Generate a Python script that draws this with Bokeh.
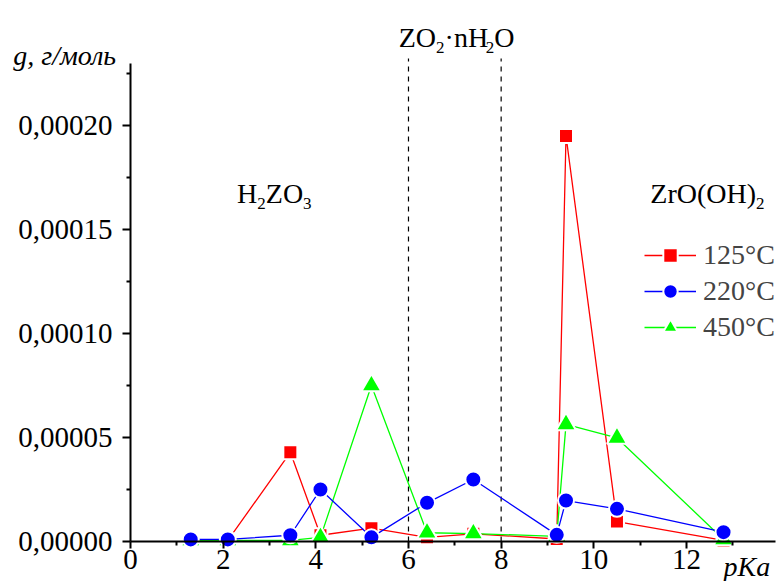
from bokeh.plotting import figure
from bokeh.models import (Label, Legend, LegendItem, FixedTicker, CustomJSTickFormatter, Range1d)
from bokeh.embed import file_html
from bokeh.resources import INLINE

# ---- data ----
pka = [1.3, 2.1, 3.45, 4.1, 5.2, 6.4, 7.4, 9.2, 9.4, 10.5, 12.8]
g_125 = [0.000001, 0.0000005, 0.0000429, 0.000003, 0.0000064, 0.000002, 0.0000037, 0.0000012, 0.000195, 0.0000096, 0.0000005]
g_220 = [0.000001, 0.000001, 0.000003, 0.000025, 0.000002, 0.0000186, 0.0000298, 0.0000032, 0.0000197, 0.0000157, 0.0000045]
g_450 = [0.0000005, 0.0000005, 0.0000005, 0.000002, 0.000075, 0.0000042, 0.0000038, 0.0000025, 0.0000563, 0.0000498, 0.000001]
series_labels = ["125°C", "220°C", "450°C"]
boundary_pka = [6, 8]
x_major = [0, 2, 4, 6, 8, 10, 12]
x_minor = [1, 3, 5, 7, 9, 11, 13]
y_major = [0.0, 0.00005, 0.0001, 0.00015, 0.0002]
y_minor = [0.000025, 0.000075, 0.000125, 0.000175, 0.000225]

FONT = "Liberation Serif"
X_AXIS_MAX = 13.92
Y_AXIS_MAX = 0.00023
# visible window (frame covers the whole canvas; axes are pinned at 0)
X_MIN, X_MAX = -2.806, 14.008
Y_MIN, Y_MAX = -0.00001923, 0.0002601

p = figure(width=779, height=581, x_range=Range1d(X_MIN, X_MAX), y_range=Range1d(Y_MIN, Y_MAX),
           output_backend="svg", toolbar_location=None,
           min_border_left=0, min_border_right=0, min_border_top=0, min_border_bottom=0)
p.outline_line_color = None
p.xgrid.visible = False
p.ygrid.visible = False
p.background_fill_color = "white"
p.border_fill_color = "white"

# axes
for ax in (p.xaxis[0], p.yaxis[0]):
    ax.axis_line_width = 2
    ax.major_tick_line_width = 2
    ax.minor_tick_line_width = 2
    ax.major_tick_in = 0
    ax.minor_tick_in = 0
    ax.major_label_text_font = FONT
    ax.major_label_text_font_size = "29px"
    ax.major_label_text_color = "black"
    ax.axis_line_color = "black"
    ax.major_tick_line_color = "black"
    ax.minor_tick_line_color = "black"

p.xaxis.ticker = FixedTicker(ticks=x_major, minor_ticks=x_minor)
p.xaxis.bounds = (0, X_AXIS_MAX)
p.xaxis.fixed_location = 0
p.xaxis.major_tick_out = 7
p.xaxis.minor_tick_out = 4
p.xaxis.major_label_standoff = 1

p.yaxis.ticker = FixedTicker(ticks=y_major, minor_ticks=y_minor)
p.yaxis.bounds = (0, Y_AXIS_MAX)
p.yaxis.fixed_location = 0
p.yaxis.major_tick_out = 8
p.yaxis.minor_tick_out = 4
p.yaxis.major_label_standoff = 10
p.yaxis.formatter = CustomJSTickFormatter(code="return tick.toFixed(5).replace('.', ',');")

# dashed boundaries
p.segment(x0=boundary_pka, y0=[0] * len(boundary_pka), x1=boundary_pka,
          y1=[0.0002322] * len(boundary_pka),
          line_color="black", line_width=1.2, line_dash="5 5")

# series (drawn red, green, blue so blue is on top)
styles = {
    "125°C": dict(color="#ff0000", marker="square", size=14),
    "220°C": dict(color="#0000ff", marker="circle", size=16),
    "450°C": dict(color="#00ff00", marker="triangle", size=20),
}
vals = {"125°C": g_125, "220°C": g_220, "450°C": g_450}
renderers = {}
for lab in ["125°C", "450°C", "220°C"]:
    st = styles[lab]
    lr = p.line(pka, vals[lab], line_color=st["color"], line_width=1.3)
    sr = p.scatter(pka, vals[lab], marker=st["marker"], size=st["size"],
                   fill_color=st["color"], line_color="white", line_width=2)
    renderers[lab] = [lr, sr]

legend = Legend(items=[LegendItem(label=l, renderers=renderers[l]) for l in series_labels],
                location=(644, 236))
legend.glyph_width = 52
legend.glyph_height = 36
legend.label_height = 36
legend.spacing = 0
legend.label_standoff = 7
legend.padding = 0
legend.margin = 0
legend.border_line_color = None
legend.background_fill_alpha = 0
legend.label_text_font = FONT
legend.label_text_font_size = "28px"
p.add_layout(legend)

# text helpers
WIDTHS = {"H": 0.722, "Z": 0.611, "O": 0.722, "n": 0.5, "r": 0.333, "(": 0.333, ")": 0.333,
          "·": 0.25, "2": 0.5, "3": 0.5}

def tw(s, fs):
    return sum(WIDTHS.get(c, 0.5) for c in s) * fs

def formula(x, y, parts, size=28, sub_size=17, drop=10):
    off = 0.0
    for txt, sub in parts:
        fs = sub_size if sub else size
        p.add_layout(Label(x=x, y=y, x_offset=off, y_offset=-drop if sub else 0, text=txt,
                           text_font=FONT, text_font_size=f"{fs}px", text_baseline="alphabetic",
                           text_color="black"))
        off += tw(txt, fs)

formula(2.30, 0.0001672, [("H", False), ("2", True), ("ZO", False), ("3", True)])
formula(5.79, 0.0002422, [("ZO", False), ("2", True), ("·nH", False), ("2", True), ("O", False)])
formula(11.22, 0.0001672, [("ZrO(OH)", False), ("2", True)])

p.add_layout(Label(x=-2.53, y=0.0002337, text="g, г/моль", text_font=FONT, text_font_size="28px",
                   text_font_style="italic", text_baseline="alphabetic", text_color="black"))
p.add_layout(Label(x=12.80, y=-0.0000120, text="pKa", text_font=FONT, text_font_size="28px",
                   text_font_style="italic", text_baseline="middle", text_color="black"))

open("out.html", "w").write(file_html(p, INLINE))
